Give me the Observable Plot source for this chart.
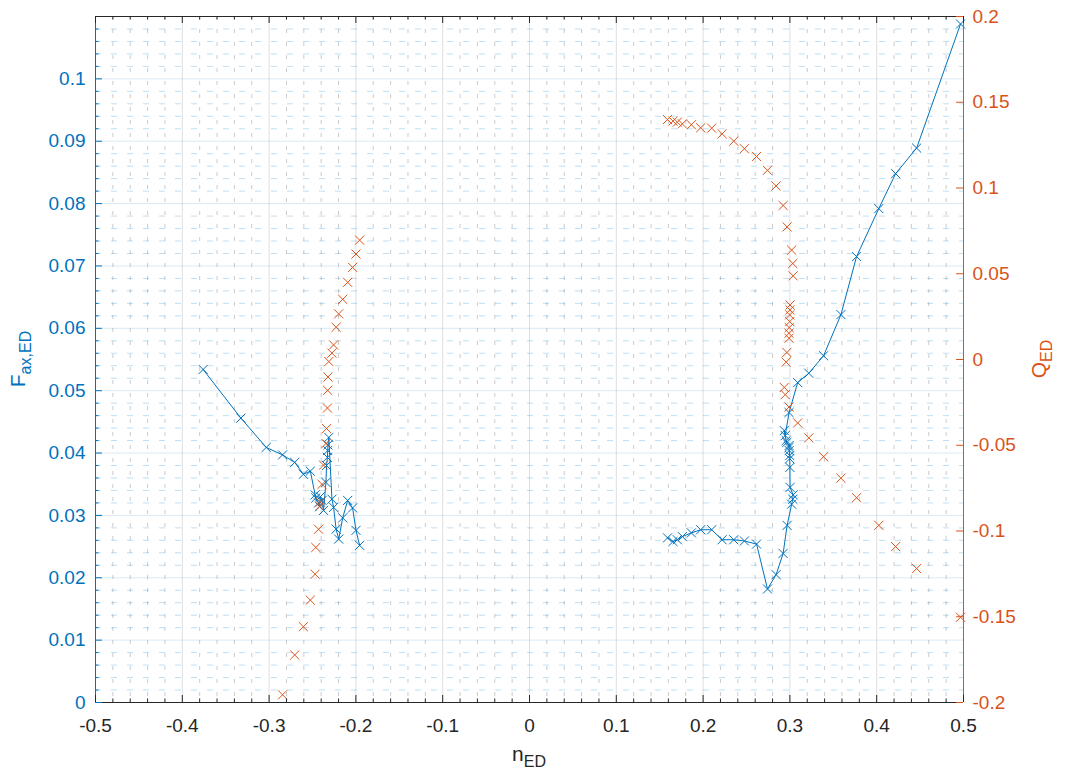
<!DOCTYPE html>
<html>
<head>
<meta charset="utf-8">
<script src="https://cdn.jsdelivr.net/npm/d3@7"></script>
<script src="https://cdn.jsdelivr.net/npm/@observablehq/plot@0.6"></script>
<style>
  html, body { margin: 0; padding: 0; background: #ffffff; }
  #chart { width: 1065px; height: 776px; }
  svg text { font-family: "Liberation Sans", Arial, Helvetica, sans-serif; }
</style>
</head>
<body>
<div id="chart"></div>
<script>
// ---- Data ----
// Left branch (negative n_ED). Q_ED of the first three points lies below the axis range (clipped).
const nLeft = [-0.376, -0.3325, -0.3033, -0.2845, -0.2705, -0.2605, -0.2525, -0.2470, -0.2462, -0.2430, -0.2418, -0.2410, -0.2390, -0.2373, -0.2345, -0.2338, -0.2328, -0.2325, -0.2322, -0.2312, -0.2276, -0.2257, -0.2228, -0.2198, -0.2152, -0.2095, -0.2038, -0.1999, -0.1957];
const faxLeft = [0.0534, 0.0456, 0.0409, 0.0397, 0.0385, 0.0366, 0.0371, 0.0333, 0.0328, 0.0320, 0.0314, 0.0330, 0.0324, 0.0308, 0.0353, 0.0380, 0.0393, 0.0404, 0.0413, 0.0425, 0.0326, 0.0313, 0.0278, 0.0262, 0.0296, 0.0324, 0.0312, 0.0276, 0.0252];
const qLeft = [null, null, null, -0.1955, -0.1723, -0.1558, -0.1403, -0.1252, -0.1096, -0.0990, -0.0855, -0.0831, -0.0728, -0.0616, -0.0490, -0.0403, -0.0283, -0.0180, -0.0102, -0.0012, 0.0037, 0.0085, 0.0188, 0.0266, 0.0351, 0.0450, 0.0537, 0.0615, 0.0696];

// Right branch (positive n_ED)
const nRight = [0.1590, 0.1653, 0.1703, 0.1761, 0.1865, 0.1972, 0.2099, 0.2219, 0.2353, 0.2476, 0.2616, 0.2742, 0.2841, 0.2922, 0.2968, 0.3020, 0.3033, 0.3037, 0.3002, 0.3000, 0.2998, 0.2998, 0.2992, 0.2990, 0.2990, 0.2965, 0.2957, 0.2935, 0.2946, 0.2990, 0.3090, 0.3218, 0.3388, 0.3588, 0.3768, 0.4024, 0.4218, 0.4460, 0.4966];
const faxRight = [0.0264, 0.0258, 0.0261, 0.0266, 0.0272, 0.0277, 0.0277, 0.0261, 0.0261, 0.0259, 0.0254, 0.0182, 0.0205, 0.0239, 0.0284, 0.0318, 0.0326, 0.0333, 0.0345, 0.0377, 0.0391, 0.0396, 0.0404, 0.0409, 0.0412, 0.0417, 0.0420, 0.0436, 0.0428, 0.0465, 0.0513, 0.0528, 0.0556, 0.0622, 0.0715, 0.0792, 0.0848, 0.0889, 0.1088];
const qRight = [0.1399, 0.1390, 0.1384, 0.1374, 0.1369, 0.1351, 0.1349, 0.1316, 0.1273, 0.1229, 0.1184, 0.1103, 0.1012, 0.0898, 0.0773, 0.0638, 0.0560, 0.0488, 0.0318, 0.0289, 0.0260, 0.0221, 0.0186, 0.0153, 0.0124, 0.0041, -0.0015, -0.0163, -0.0205, -0.0277, -0.0370, -0.0457, -0.0567, -0.0692, -0.0806, -0.0967, -0.1091, -0.1219, -0.1503];

// Tick values
const xTicks = [-0.5, -0.4, -0.3, -0.2, -0.1, 0, 0.1, 0.2, 0.3, 0.4, 0.5];
const faxTicks = [0, 0.01, 0.02, 0.03, 0.04, 0.05, 0.06, 0.07, 0.08, 0.09, 0.1];
const qTicks = [-0.2, -0.15, -0.1, -0.05, 0, 0.05, 0.1, 0.15, 0.2];

// Axis ranges
const xDomain = [-0.5, 0.5];
const faxDomain = [0, 0.11];
const qDomain = [-0.2, 0.2];

// ---- Build tables ----
const rows = [
  ...nLeft.map((n, i) => ({n, fax: faxLeft[i], q: qLeft[i], branch: "left"})),
  ...nRight.map((n, i) => ({n, fax: faxRight[i], q: qRight[i], branch: "right"}))
];
const qRows = rows.filter(d => d.q != null);

// map the right-axis quantity onto the shared y scale
const qToF = d3.scaleLinear(qDomain, faxDomain);

const xMinor = d3.range(-0.5, 0.5001, 0.02).map(v => +v.toFixed(3)).filter(v => !xTicks.some(t => Math.abs(t - v) < 1e-9));
const faxMinor = d3.range(0, 0.1101, 0.002).map(v => +v.toFixed(4)).filter(v => !faxTicks.some(t => Math.abs(t - v) < 1e-9) && v < 0.1099);

const BLUE = "#0072BD";
const ORANGE = "#D95319";
const DARK = "#262626";
const fmt = v => String(+(+v).toFixed(3));

const xTick = 0.008;      // tick length in x units
const yTick = 0.00112;    // tick length in fax units

const plot = Plot.plot({
  width: 1065,
  height: 776,
  marginLeft: 95,
  marginRight: 102,
  marginTop: 16,
  marginBottom: 74,
  style: {fontSize: "19px", fontFamily: "'Liberation Sans', Arial, Helvetica, sans-serif", background: "#ffffff", overflow: "visible"},
  x: {domain: xDomain, axis: null},
  y: {domain: faxDomain, axis: null},
  marks: [
    // minor grid
    Plot.ruleX(xMinor, {stroke: DARK, strokeOpacity: 0.24, strokeDasharray: "4,9"}),
    Plot.ruleY(faxMinor, {stroke: BLUE, strokeOpacity: 0.24, strokeDasharray: "6,10"}),
    // major grid
    Plot.ruleX(xTicks, {stroke: DARK, strokeOpacity: 0.15}),
    Plot.ruleY(faxTicks, {stroke: BLUE, strokeOpacity: 0.15}),
    // data: F_ax,ED (left axis)
    Plot.line(rows, {x: "n", y: "fax", z: "branch", stroke: BLUE, strokeWidth: 1}),
    Plot.dot(rows, {x: "n", y: "fax", symbol: "times", r: 4.2, stroke: BLUE, strokeWidth: 1}),
    // data: Q_ED (right axis)
    Plot.dot(qRows, {x: "n", y: d => qToF(d.q), symbol: "times", r: 4.2, stroke: ORANGE, strokeWidth: 1}),
    // box / axis lines
    Plot.ruleY([faxDomain[0]], {stroke: DARK, strokeWidth: 1}),
    Plot.ruleY([faxDomain[1]], {stroke: DARK, strokeWidth: 1}),
    Plot.ruleX([xDomain[0]], {stroke: BLUE, strokeWidth: 1}),
    Plot.ruleX([xDomain[1]], {stroke: ORANGE, strokeWidth: 1}),
    // x ticks (inward, bottom and top)
    Plot.ruleX(xTicks, {y1: faxDomain[0], y2: faxDomain[0] + yTick, stroke: DARK}),
    Plot.ruleX(xTicks, {y1: faxDomain[1], y2: faxDomain[1] - yTick, stroke: DARK}),
    Plot.ruleX(xMinor, {y1: faxDomain[0], y2: faxDomain[0] + yTick / 2, stroke: DARK}),
    Plot.ruleX(xMinor, {y1: faxDomain[1], y2: faxDomain[1] - yTick / 2, stroke: DARK}),
    // left ticks
    Plot.ruleY(faxTicks, {x1: xDomain[0], x2: xDomain[0] + xTick, stroke: BLUE}),
    Plot.ruleY(faxMinor, {x1: xDomain[0], x2: xDomain[0] + xTick / 2, stroke: BLUE}),
    // right ticks
    Plot.ruleY(qTicks.map(qToF), {x1: xDomain[1], x2: xDomain[1] - xTick, stroke: ORANGE}),
    // tick labels
    Plot.axisX(xTicks, {anchor: "bottom", tickSize: 0, tickPadding: 16, tickFormat: fmt, fill: DARK, label: null}),
    Plot.axisY(faxTicks, {anchor: "left", tickSize: 0, tickPadding: 10, tickFormat: fmt, fill: BLUE, label: null}),
    Plot.axisY(qTicks.map(qToF), {anchor: "right", tickSize: 0, tickPadding: 9, tickFormat: d => fmt(qToF.invert(d)), fill: ORANGE, label: null})
  ]
});

document.getElementById("chart").appendChild(plot);

// ---- Axis titles with subscripts ----
const svg = d3.select(plot);
const font = "'Liberation Sans', Arial, Helvetica, sans-serif";

function label(x, y, rotate, main, sub, color) {
  const t = svg.append("text")
    .attr("transform", `translate(${x},${y})` + (rotate ? ` rotate(${rotate})` : ""))
    .attr("text-anchor", "middle")
    .attr("fill", color)
    .style("font-family", font)
    .style("font-size", "21px");
  t.append("tspan").text(main);
  t.append("tspan").attr("dy", "0.38em").style("font-size", "16px").text(sub);
}

label(529, 761, 0, "n", "ED", DARK);
label(25, 359, -90, "F", "ax,ED", BLUE);
label(1046, 359, -90, "Q", "ED", ORANGE);
</script>
</body>
</html>
